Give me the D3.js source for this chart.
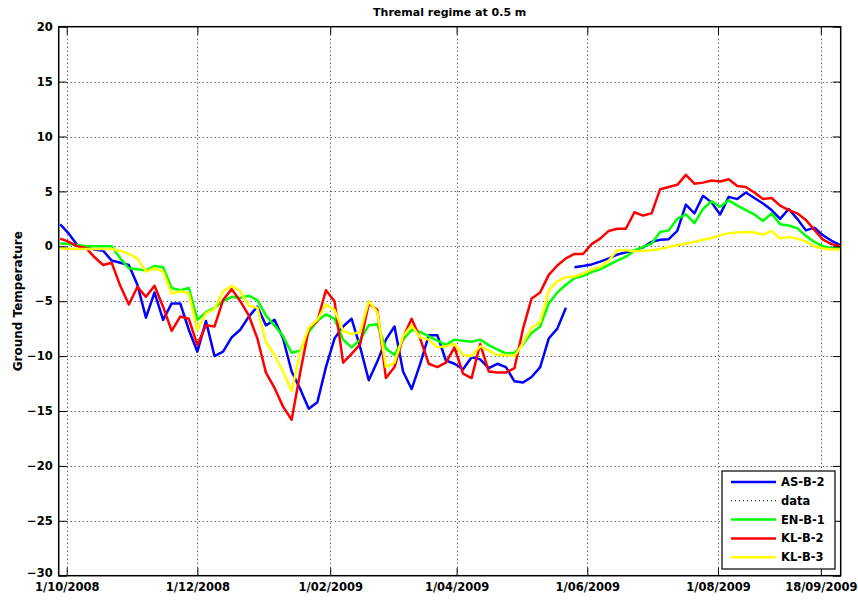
<!DOCTYPE html>
<html lang="en">
<head>
  <meta charset="UTF-8">
  <title>Thremal regime at 0.5 m</title>
  <style>body { margin: 0; background: #fff; }</style>
</head>
<body>
  <script src="https://d3js.org/d3.v7.min.js"></script>
  <script>
    const [width, height] = [858, 600];
    const margin = { top: 26.7, right: 17.3, bottom: 24.3, left: 58.7 };

    // one reading every 4 days, 28/09/2008 .. 27/09/2009
    const dates = d3.timeDay.range(new Date(2008, 8, 28), new Date(2009, 8, 28), 4);

    const asB2 = [2.0, 1.15, 0.1, -0.1, -0.3, -0.4, -1.3, -1.5, -1.7, -3.5,
      -6.5, -4.2, -6.7, -5.2, -5.2, -7.6, -9.6, -6.8, -10.0, -9.6,
      -8.3, -7.6, -6.4, -5.5, -7.2, -6.7, -8.4, -11.4, -13.0, -14.8,
      -14.2, -11.0, -8.4, -7.3, -6.6, -9.2, -12.2, -10.5, -8.5, -7.3,
      -11.4, -13.0, -10.7, -8.1, -8.1, -10.4, -10.7, -11.2, -10.1, -10.3,
      -11.1, -10.7, -11.0, -12.3, -12.4, -11.9, -11.0, -8.4, -7.5, -5.6,
      -1.9, -1.8, -1.65, -1.4, -1.1, -0.75, -0.55, -0.4, -0.1, 0.4,
      0.6, 0.65, 1.4, 3.8, 3.0, 4.6, 4.0, 2.9, 4.5, 4.3,
      4.9, 4.4, 3.9, 3.3, 2.5, 3.4, 2.5, 1.45, 1.7, 1.0,
      0.5, 0.1];
    const asB2Break = 60; // logger gap end of May 2009

    const enB1 = [0.25, 0.2, 0.1, 0.0, 0.0, 0.0, 0.0, -1.1, -2.0, -2.1,
      -2.2, -1.8, -1.9, -3.8, -4.0, -3.8, -6.7, -6.0, -5.6, -5.0,
      -4.6, -4.7, -4.5, -4.9, -6.3, -7.2, -8.2, -9.7, -9.5, -7.8,
      -6.8, -6.2, -6.6, -8.5, -9.2, -8.5, -7.2, -7.1, -9.3, -9.9,
      -8.5, -7.6, -7.8, -8.2, -8.6, -9.0, -8.5, -8.6, -8.7, -8.5,
      -9.0, -9.4, -9.75, -9.7, -8.9, -7.9, -7.3, -5.2, -4.2, -3.5,
      -2.9, -2.7, -2.35, -2.1, -1.7, -1.3, -0.95, -0.4, -0.05, 0.25,
      1.3, 1.45, 2.5, 2.9, 2.1, 3.4, 4.1, 3.6, 4.2, 3.7,
      3.3, 2.9, 2.3, 3.0, 2.0, 1.9, 1.65, 0.95, 0.4, 0.0,
      -0.2, -0.1];

    const klB2 = [0.7, 0.4, 0.0, -0.15, -1.0, -1.7, -1.5, -3.6, -5.3, -3.7,
      -4.6, -3.6, -5.5, -7.7, -6.4, -6.6, -9.0, -7.2, -7.3, -4.9,
      -3.9, -5.0, -6.3, -8.4, -11.5, -12.9, -14.6, -15.8, -11.5, -7.5,
      -6.8, -4.0, -5.0, -10.6, -9.8, -8.9, -5.2, -5.8, -12.0, -11.0,
      -8.3, -6.6, -8.4, -10.7, -11.0, -10.6, -9.2, -11.6, -12.0, -8.9,
      -11.4, -11.5, -11.5, -11.1, -7.5, -4.75, -4.2, -2.6, -1.75, -1.1,
      -0.7, -0.7, 0.2, 0.7, 1.4, 1.6, 1.6, 3.1, 2.8, 3.0,
      5.2, 5.4, 5.6, 6.5, 5.7, 5.8, 6.0, 5.9, 6.1, 5.5,
      5.4, 4.9, 4.3, 4.4, 3.7, 3.3, 3.0, 2.4, 1.5, 0.6,
      0.2, 0.0];

    const klB3 = [-0.2, -0.25, -0.25, -0.25, -0.25, -0.25, -0.25, -0.4, -0.7, -1.1,
      -2.3, -2.0, -2.3, -4.3, -4.1, -4.3, -7.6, -6.1, -5.7, -4.1,
      -3.6, -4.1, -5.4, -5.6, -8.7, -9.9, -11.4, -13.2, -9.6, -7.4,
      -6.7, -5.3, -5.8, -7.7, -8.0, -7.8, -5.0, -6.0, -11.0, -10.6,
      -8.2, -7.2, -8.3, -8.5, -9.2, -9.1, -8.9, -9.9, -10.0, -9.1,
      -9.5, -9.9, -9.9, -10.0, -8.8, -7.4, -6.9, -4.0, -3.2, -2.8,
      -2.75, -2.5, -2.1, -1.9, -1.3, -0.35, -0.35, -0.45, -0.4, -0.35,
      -0.25, -0.05, 0.1, 0.25, 0.4, 0.6, 0.75, 1.0, 1.2, 1.25,
      1.3, 1.25, 1.05, 1.4, 0.7, 0.85, 0.7, 0.45, 0.0, -0.2,
      -0.3, -0.3];

    const yTicks = [-30, -25, -20, -15, -10, -5, 0, 5, 10, 15, 20];
    const xTicks = ["1/10/2008", "1/12/2008", "1/02/2009", "1/04/2009", "1/06/2009", "1/08/2009", "18/09/2009"];

    const parse = d3.timeParse("%d/%m/%Y");
    const font = "'DejaVu Sans', 'Liberation Sans', Arial, sans-serif";

    const x = d3
      .scaleTime()
      .domain([new Date(2008, 8, 27, 6, 30), new Date(2009, 8, 27, 6, 30)])
      .range([margin.left, width - margin.right]);

    const y = d3
      .scaleLinear()
      .domain([-30, 20])
      .range([height - margin.bottom, margin.top]);

    const series = [
      { name: "AS-B-2", color: "#0000ff", values: asB2, breakAt: asB2Break },
      { name: "EN-B-1", color: "#00ff00", values: enB1 },
      { name: "KL-B-2", color: "#ff0000", values: klB2 },
      { name: "KL-B-3", color: "#ffff00", values: klB3 },
    ];

    const svg = d3
      .select(document.body)
      .append("svg")
      .attr("xmlns", "http://www.w3.org/2000/svg")
      .attr("width", width)
      .attr("height", height)
      .attr("viewBox", [0, 0, width, height])
      .attr("font-family", font)
      .attr("font-weight", "bold");

    svg.append("rect").attr("width", width).attr("height", height).attr("fill", "#fff");

    const [x0, x1] = x.range();
    const [y0, y1] = y.range();
    const tickDates = xTicks.map(parse);

    // dotted grid
    const grid = svg.append("g")
      .attr("stroke", "#222")
      .attr("stroke-width", 1)
      .attr("stroke-dasharray", "1,3");
    grid.selectAll(".gx")
      .data(tickDates)
      .join("line")
      .attr("x1", d => Math.round(x(d)) + 0.5)
      .attr("x2", d => Math.round(x(d)) + 0.5)
      .attr("y1", y1)
      .attr("y2", y0);
    grid.selectAll(".gy")
      .data(yTicks.slice(1, -1))
      .join("line")
      .attr("class", "gy")
      .attr("x1", x0)
      .attr("x2", x1)
      .attr("y1", d => Math.round(y(d)) + 0.5)
      .attr("y2", d => Math.round(y(d)) + 0.5);

    // data lines
    const line = d3
      .line()
      .x(d => x(d[0]))
      .y(d => y(d[1]));

    const lines = svg.append("g")
      .attr("fill", "none")
      .attr("stroke-width", 2.5)
      .attr("stroke-linejoin", "round");
    series.forEach(s => {
      const pts = dates.map((d, i) => [d, s.values[i]]);
      const parts = s.breakAt ? [pts.slice(0, s.breakAt), pts.slice(s.breakAt)] : [pts];
      parts.forEach(p =>
        lines.append("path").attr("stroke", s.color).attr("d", line(p))
      );
    });

    // axes, ticks inside on all four sides
    const tick = 8;
    const yAxis = (g, side) =>
      g
        .attr("transform", `translate(${side === "left" ? x0 : x1},0)`)
        .call(
          (side === "left" ? d3.axisLeft(y) : d3.axisRight(y))
            .tickValues(yTicks)
            .tickSizeInner(-tick)
            .tickSizeOuter(0)
            .tickPadding(side === "left" ? 6 : 0)
        )
        .call(g => g.select(".domain").remove())
        .call(g => side === "right" && g.selectAll("text").remove());

    const xAxis = (g, side) =>
      g
        .attr("transform", `translate(0,${side === "bottom" ? y0 : y1})`)
        .call(
          (side === "bottom" ? d3.axisBottom(x) : d3.axisTop(x))
            .tickValues(tickDates)
            .tickFormat((d, i) => xTicks[i])
            .tickSizeInner(-tick)
            .tickSizeOuter(0)
            .tickPadding(side === "bottom" ? 7.5 : 0)
        )
        .call(g => g.select(".domain").remove())
        .call(g => side === "top" && g.selectAll("text").remove());

    const yLeft = svg.append("g").call(yAxis, "left");
    svg.append("g").call(yAxis, "right");
    svg.append("g").call(xAxis, "bottom");
    svg.append("g").call(xAxis, "top");
    svg.selectAll(".tick text")
      .attr("font-family", font)
      .attr("font-size", 11.5)
      .attr("font-weight", "bold")
      .attr("fill", "#000");
    svg.selectAll(".tick line").attr("stroke", "#000");
    // lowest label sits a little above its tick, clear of the date labels
    yLeft.selectAll(".tick text").filter(d => d === -30).attr("dy", "0.05em");

    svg.append("rect")
      .attr("x", x0)
      .attr("y", y1)
      .attr("width", x1 - x0)
      .attr("height", y0 - y1)
      .attr("fill", "none")
      .attr("stroke", "#000")
      .attr("stroke-width", 1.5);

    // title and y label
    svg.append("text")
      .attr("x", (x0 + x1) / 2)
      .attr("y", 16)
      .attr("text-anchor", "middle")
      .attr("font-size", 11)
      .text("Thremal regime at 0.5 m");

    svg.append("text")
      .attr("transform", `translate(22,${(y0 + y1) / 2}) rotate(-90)`)
      .attr("text-anchor", "middle")
      .attr("font-size", 12)
      .text("Ground Temperature");

    // legend
    const entries = [
      { name: "AS-B-2", color: "#0000ff" },
      { name: "data", color: "#000", dotted: true },
      { name: "EN-B-1", color: "#00ff00" },
      { name: "KL-B-2", color: "#ff0000" },
      { name: "KL-B-3", color: "#ffff00" },
    ];
    const legend = svg.append("g").attr("transform", "translate(722,471)");
    legend.append("rect")
      .attr("width", 113)
      .attr("height", 98)
      .attr("fill", "#fff")
      .attr("stroke", "#000")
      .attr("stroke-width", 1.2);
    const row = legend.selectAll("g")
      .data(entries)
      .join("g")
      .attr("transform", (d, i) => `translate(0,${11 + i * 18.8})`);
    row.append("line")
      .attr("x1", 9)
      .attr("x2", 54)
      .attr("stroke", d => d.color)
      .attr("stroke-width", d => d.dotted ? 1 : 2.5)
      .attr("stroke-dasharray", d => d.dotted ? "1,3" : null);
    row.append("text")
      .attr("x", 59)
      .attr("dy", "0.35em")
      .attr("font-size", 11.5)
      .text(d => d.name);
  </script>
</body>
</html>
